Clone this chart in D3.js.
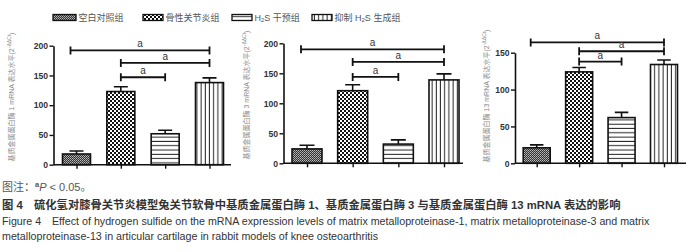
<!DOCTYPE html>
<html><head><meta charset="utf-8">
<script src="https://cdn.jsdelivr.net/npm/d3@7"></script>
<style>body{margin:0;background:#fff} svg{display:block}</style>
</head><body><svg id="c" width="700" height="252"></svg>
<script>
// ---- data ----
const groups = ["空白对照组", "骨性关节炎组", "H2S 干预组", "抑制 H2S 生成组"];
const mmp1Mean = [18, 123, 52, 138];
const mmp1Sd = [5, 8, 6, 8];
const mmp3Mean = [24, 121, 32, 139];
const mmp3Sd = [6, 10, 7, 10];
const mmp13Mean = [21, 124, 62, 134];
const mmp13Sd = [4, 6, 7, 6];
const ticks200 = [0, 50, 100, 150, 200];
const ticks150 = [0, 50, 100, 150];
const sigPairs = [[0, 3], [1, 3], [1, 2]];
const sig1 = [192, 171, 147];
const sig3 = [190, 169, 144];
const sig13 = [164, 152, 138];
const sigLabel = "a";
const yLabels = ["基质金属蛋白酶 1 mRNA 表达水平(2", "基质金属蛋白酶 3 mRNA 表达水平(2", "基质金属蛋白酶 13 mRNA 表达水平(2"];

// ---- layout ----
const panels = [
  {mean: mmp1Mean, sd: mmp1Sd, ticks: ticks200, sig: sig1, yMax: 200, label: yLabels[0],
   ax: 53.5, axEnd: 231, c0: 76.5, c1: 209.5, bw: 28, yB: 164.7, yT: 45.7, lx: 11, ly: 97},
  {mean: mmp3Mean, sd: mmp3Sd, ticks: ticks200, sig: sig3, yMax: 200, label: yLabels[1],
   ax: 283.5, axEnd: 463, c0: 307, c1: 444, bw: 30, yB: 163.3, yT: 43.3, lx: 246, ly: 95},
  {mean: mmp13Mean, sd: mmp13Sd, ticks: ticks150, sig: sig13, yMax: 150, label: yLabels[2],
   ax: 515, axEnd: 686, c0: 536.7, c1: 664, bw: 27, yB: 163.3, yT: 52.7, lx: 486, ly: 96}
];

const svg = d3.select("#c");
const defs = svg.append("defs");
// pattern 0: dense dark checker
let p = defs.append("pattern").attr("id", "pt0").attr("patternUnits", "userSpaceOnUse").attr("width", 2).attr("height", 2);
p.append("rect").attr("width", 2).attr("height", 2).attr("fill", "#333");
p.append("rect").attr("width", 1).attr("height", 1).attr("fill", "#bbb");
p.append("rect").attr("x", 1).attr("y", 1).attr("width", 1).attr("height", 1).attr("fill", "#999");
// pattern 1: coarse checker
p = defs.append("pattern").attr("id", "pt1").attr("patternUnits", "userSpaceOnUse").attr("width", 4).attr("height", 4);
p.append("rect").attr("width", 4).attr("height", 4).attr("fill", "#111");
p.append("rect").attr("width", 2).attr("height", 2).attr("fill", "#fff");
p.append("rect").attr("x", 2).attr("y", 2).attr("width", 2).attr("height", 2).attr("fill", "#fff");
// pattern 2: horizontal lines
p = defs.append("pattern").attr("id", "pt2").attr("patternUnits", "userSpaceOnUse").attr("width", 4).attr("height", 4.3);
p.append("rect").attr("width", 4).attr("height", 4.3).attr("fill", "#fff");
p.append("rect").attr("y", 3.3).attr("width", 4).attr("height", 1).attr("fill", "#222");
// pattern 3: vertical lines
p = defs.append("pattern").attr("id", "pt3").attr("patternUnits", "userSpaceOnUse").attr("width", 4.2).attr("height", 4);
p.append("rect").attr("width", 4.2).attr("height", 4).attr("fill", "#fff");
p.append("rect").attr("x", 3.2).attr("width", 1).attr("height", 4).attr("fill", "#222");

const fills = ["url(#pt0)", "url(#pt1)", "url(#pt2)", "url(#pt3)"];
const FONT = "Liberation Sans, Arial, 'Noto Sans CJK SC', sans-serif";

panels.forEach(P => {
  const idx = d3.range(groups.length);
  const x = d3.scalePoint().domain(idx).range([P.c0, P.c1]);
  const y = d3.scaleLinear().domain([0, P.yMax]).range([P.yB, P.yT]);
  const g = svg.append("g");

  g.selectAll("rect.bar").data(idx).join("rect")
    .attr("x", i => x(i) - P.bw / 2).attr("width", P.bw)
    .attr("y", i => y(P.mean[i])).attr("height", i => y(0) - y(P.mean[i]))
    .attr("fill", i => fills[i]).attr("stroke", "#111").attr("stroke-width", 1.6);

  g.selectAll("path.err").data(idx).join("path")
    .attr("d", i => {
      const cx = x(i), t = y(P.mean[i] + P.sd[i]), b = y(P.mean[i]);
      return `M${cx},${b}V${t}M${cx - P.bw / 4},${t}H${cx + P.bw / 4}`;
    })
    .attr("stroke", "#111").attr("stroke-width", 1.6).attr("fill", "none");

  const ya = g.append("g").attr("transform", `translate(${P.ax},0)`)
    .call(d3.axisLeft(y).tickValues(P.ticks).tickSize(4).tickSizeOuter(0).tickPadding(1.5));
  ya.select(".domain").attr("stroke", "#111").attr("stroke-width", 1.6);
  ya.selectAll(".tick line").attr("stroke", "#111").attr("stroke-width", 1.4);
  ya.selectAll(".tick text").attr("font-family", FONT).attr("font-size", 8.6)
    .attr("font-weight", "bold").attr("fill", "#333");

  const xa = g.append("g").attr("transform", `translate(0,${P.yB})`)
    .call(d3.axisBottom(x).tickSize(4).tickFormat(""));
  xa.select(".domain").remove();
  xa.selectAll(".tick line").attr("stroke", "#111").attr("stroke-width", 1.4);
  g.append("line").attr("x1", P.ax).attr("x2", P.axEnd).attr("y1", P.yB).attr("y2", P.yB)
    .attr("stroke", "#111").attr("stroke-width", 1.6);

  sigPairs.forEach((pr, k) => {
    const yy = y(P.sig[k]);
    const xa0 = x(pr[0]) - (pr[0] === 0 ? 6 : 0), xb = x(pr[1]);
    g.append("path").attr("d", `M${xa0},${yy - 4}V${yy + 4}M${xa0},${yy}H${xb}M${xb},${yy - 4}V${yy + 4}`)
      .attr("stroke", "#111").attr("stroke-width", 1.8).attr("fill", "none");
    g.append("text").attr("x", (xa0 + xb) / 2).attr("y", yy - 3).attr("text-anchor", "middle")
      .attr("font-family", FONT).attr("font-size", 10).attr("fill", "#333").text(sigLabel);
  });

  const t = g.append("text").attr("transform", `translate(${P.lx},${P.ly}) rotate(-90)`)
    .attr("text-anchor", "middle").attr("dominant-baseline", "central")
    .attr("font-family", FONT).attr("font-size", 7).attr("fill", "#888");
  t.append("tspan").text(P.label);
  t.append("tspan").attr("dy", -2.5).attr("font-size", 5).text("-ΔΔCt");
  t.append("tspan").attr("dy", 2.5).text(")");
});

// legend
const legX = [53, 143, 232, 312];
const legW = [23, 20, 20, 20];
const lg = svg.append("g");
groups.forEach((name, i) => {
  lg.append("rect").attr("x", legX[i]).attr("y", 14.5).attr("width", legW[i]).attr("height", 6)
    .attr("fill", fills[i]).attr("stroke", "#111").attr("stroke-width", 1.3);
  const t = lg.append("text").attr("x", legX[i] + legW[i] + 2.5).attr("y", 17.5)
    .attr("dominant-baseline", "central").attr("font-family", FONT).attr("font-size", 9).attr("fill", "#555");
  const parts = name.split("H2S");
  parts.forEach((s, j) => {
    if (j > 0) {
      t.append("tspan").text("H");
      t.append("tspan").attr("font-size", 6).attr("dy", 2).text("2");
      t.append("tspan").attr("dy", -2).text("S");
    }
    if (s) t.append("tspan").text(s);
  });
});

// captions
const cap = svg.append("g").attr("font-family", FONT);
const n1 = cap.append("text").attr("x", 2).attr("y", 190.5).attr("font-size", 11).attr("fill", "#555");
n1.append("tspan").text("图注：");
n1.append("tspan").attr("font-size", 7.5).attr("dy", -3.5).attr("font-weight", "bold").text("a");
n1.append("tspan").attr("dy", 3.5).attr("font-style", "italic").text("P");
n1.append("tspan").text(" < 0.05。");
cap.append("text").attr("x", 2).attr("y", 209).attr("font-size", 11.3).attr("font-weight", "bold").attr("fill", "#333")
  .text("图 4　硫化氢对膝骨关节炎模型兔关节软骨中基质金属蛋白酶 1、基质金属蛋白酶 3 与基质金属蛋白酶 13 mRNA 表达的影响");
cap.append("text").attr("x", 2).attr("y", 225).attr("font-size", 10.7).attr("fill", "#333")
  .text("Figure 4　Effect of hydrogen sulfide on the mRNA expression levels of matrix metalloproteinase-1, matrix metalloproteinase-3 and matrix");
cap.append("text").attr("x", 2).attr("y", 240).attr("font-size", 10.7).attr("fill", "#333")
  .text("metalloproteinase-13 in articular cartilage in rabbit models of knee osteoarthritis");
</script></body></html>
